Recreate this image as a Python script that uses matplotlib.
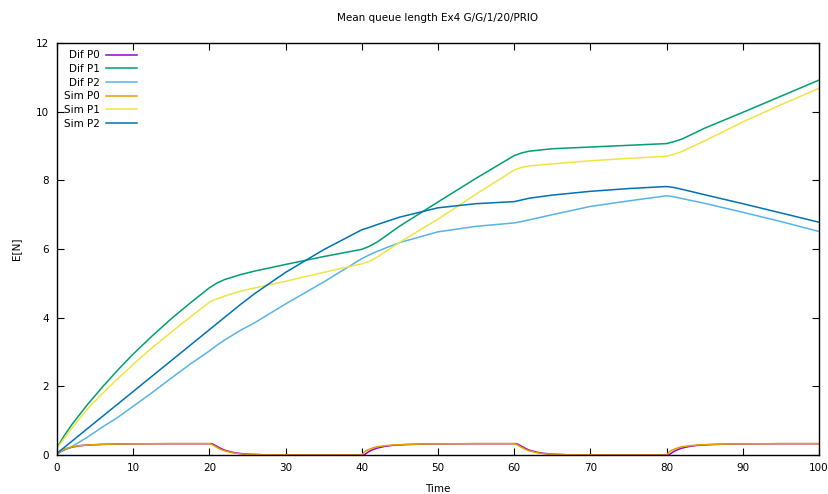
import matplotlib.pyplot as plt

# time grid for the P1/P2 curves
t = [0, 1, 2, 4, 6, 8, 10, 12.5, 15, 17.5, 20, 21, 22, 24, 26, 30, 35, 40, 41, 42, 45,
     50, 55, 60, 61, 62, 65, 70, 75, 80, 81, 82, 85, 90, 95, 100]

dif_p1 = [0.22, 0.58, 0.9, 1.47, 1.99, 2.48, 2.94, 3.47, 3.97, 4.43, 4.87, 5.01, 5.11,
          5.25, 5.36, 5.55, 5.78, 5.99, 6.08, 6.2, 6.67, 7.37, 8.06, 8.72, 8.8, 8.85,
          8.92, 8.97, 9.02, 9.07, 9.13, 9.2, 9.52, 9.98, 10.45, 10.92]
dif_p2 = [0.05, 0.14, 0.25, 0.52, 0.82, 1.1, 1.42, 1.82, 2.24, 2.65, 3.03, 3.2, 3.35,
          3.62, 3.86, 4.4, 5.04, 5.72, 5.83, 5.93, 6.19, 6.5, 6.66, 6.76, 6.8, 6.85, 7.0,
          7.24, 7.4, 7.55, 7.52, 7.47, 7.33, 7.07, 6.8, 6.51]
sim_p1 = [0.2, 0.5, 0.8, 1.34, 1.8, 2.23, 2.64, 3.13, 3.58, 4.02, 4.45, 4.55, 4.63,
          4.77, 4.87, 5.06, 5.32, 5.57, 5.64, 5.76, 6.2, 6.87, 7.6, 8.3, 8.38, 8.42,
          8.48, 8.57, 8.64, 8.7, 8.76, 8.84, 9.15, 9.7, 10.2, 10.68]
sim_p2 = [0.05, 0.23, 0.41, 0.77, 1.13, 1.49, 1.85, 2.3, 2.75, 3.2, 3.65, 3.83, 4.01,
          4.37, 4.71, 5.32, 5.98, 6.56, 6.63, 6.71, 6.93, 7.2, 7.32, 7.38, 7.43, 7.48,
          7.57, 7.68, 7.76, 7.82, 7.79, 7.74, 7.58, 7.32, 7.05, 6.78]

# time grid for the P0 curves (switching every 20 time units)
t0 = [0, 0.5, 1, 2, 3, 4, 6, 8, 10, 15,
      20, 20.3, 20.6, 21, 21.5, 22, 23, 24, 25, 27, 30, 35,
      40, 40.3, 40.6, 41, 41.5, 42, 43, 44, 46, 48, 50, 55,
      60, 60.3, 60.6, 61, 61.5, 62, 63, 64, 65, 67, 70, 75,
      80, 80.3, 80.6, 81, 81.5, 82, 83, 84, 86, 88, 90, 95, 100]

dif_p0 = [0.02, 0.1, 0.16, 0.23, 0.27, 0.29, 0.31, 0.32, 0.325, 0.33,
          0.33, 0.33, 0.30, 0.25, 0.19, 0.14, 0.08, 0.045, 0.025, 0.008, 0.002, 0.0,
          0.0, 0.0, 0.05, 0.11, 0.16, 0.2, 0.25, 0.28, 0.305, 0.317, 0.323, 0.33,
          0.33, 0.33, 0.30, 0.25, 0.19, 0.14, 0.08, 0.045, 0.025, 0.008, 0.002, 0.0,
          0.0, 0.0, 0.05, 0.11, 0.16, 0.2, 0.25, 0.28, 0.305, 0.317, 0.323, 0.33, 0.33]
sim_p0 = [0.02, 0.12, 0.18, 0.24, 0.27, 0.29, 0.31, 0.32, 0.325, 0.33,
          0.33, 0.31, 0.27, 0.22, 0.16, 0.12, 0.065, 0.035, 0.018, 0.006, 0.002, 0.0,
          0.0, 0.08, 0.13, 0.17, 0.21, 0.24, 0.27, 0.29, 0.31, 0.32, 0.325, 0.33,
          0.33, 0.31, 0.27, 0.22, 0.16, 0.12, 0.065, 0.035, 0.018, 0.006, 0.002, 0.0,
          0.0, 0.08, 0.13, 0.17, 0.21, 0.24, 0.27, 0.29, 0.31, 0.32, 0.325, 0.33, 0.33]

plt.rcParams['font.family'] = 'DejaVu Sans'
plt.rcParams['font.size'] = 7.5

fig = plt.figure(figsize=(8.29, 4.94), dpi=100)
ax = fig.add_axes([57 / 829, 1 - 455 / 494, (819 - 57) / 829, (455 - 43) / 494])

lw = 1.1
ax.plot(t0, dif_p0, color='#9400d3', lw=lw, label='Dif P0')
ax.plot(t, dif_p1, color='#009e73', lw=lw, label='Dif P1')
ax.plot(t, dif_p2, color='#56b4e9', lw=lw, label='Dif P2')
ax.plot(t0, sim_p0, color='#e69f00', lw=lw, label='Sim P0')
ax.plot(t, sim_p1, color='#f0e442', lw=lw, label='Sim P1')
ax.plot(t, sim_p2, color='#0072b2', lw=lw, label='Sim P2')

ax.set_xlim(0, 100)
ax.set_ylim(0, 12)
ax.set_xticks(range(0, 101, 10))
ax.set_yticks(range(0, 13, 2))
ax.tick_params(direction='in', length=5, width=0.8, top=True, right=True, pad=6)
for s in ax.spines.values():
    s.set_linewidth(1.0)

ax.set_title('Mean queue length Ex4 G/G/1/20/PRIO', fontsize=7.5, pad=16)
ax.set_xlabel('Time', labelpad=8)
ax.set_ylabel('E[N]', labelpad=10)

ax.legend(loc='upper left', frameon=False, markerfirst=False, handlelength=2.9,
          handletextpad=0.6, labelspacing=0.35, borderaxespad=0.3,
          bbox_to_anchor=(0.0, 1.0))

fig.savefig('out.png', dpi=100)
